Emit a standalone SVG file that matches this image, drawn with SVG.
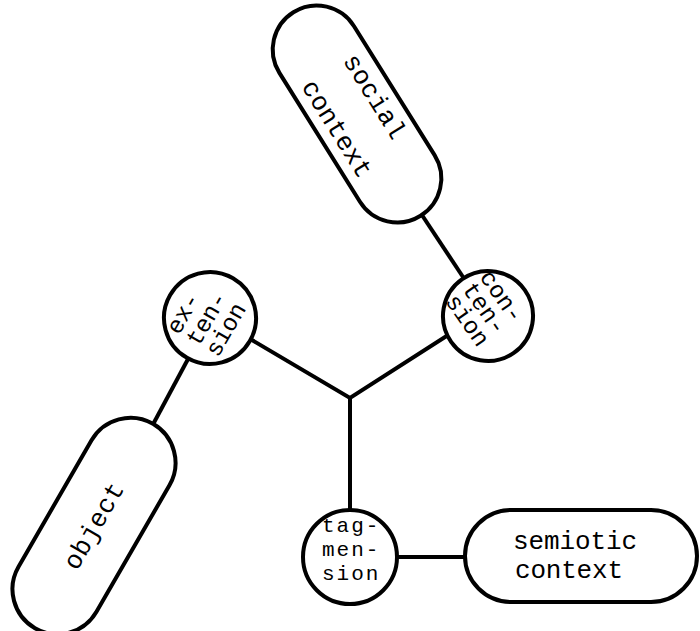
<svg xmlns="http://www.w3.org/2000/svg" width="700" height="631" viewBox="0 0 700 631">
<style>
.shape{fill:#fff;stroke:#000;stroke-width:4}
.conn{fill:none;stroke:#000;stroke-width:4;stroke-linejoin:miter;stroke-linecap:butt}
.t{font-family:"Liberation Mono","DejaVu Sans Mono",monospace;font-size:24px;fill:#000}
.ts{font-family:"Liberation Mono","DejaVu Sans Mono",monospace;font-size:21px;letter-spacing:2px;fill:#000}
.tl{font-family:"Liberation Mono","DejaVu Sans Mono",monospace;font-size:26px;fill:#000}
</style>
<rect width="700" height="631" fill="#fff"/>
<g id="connectors">
<path class="conn" d="M230,327 L350,398 L470,321"/>
<path class="conn" d="M350,398 L350,540"/>
<path class="conn" d="M380,557 L480,557"/>
<path class="conn" d="M210,318 L150,430"/>
<path class="conn" d="M465,280 L410,197"/>
</g>
<g id="social-context" transform="translate(357,114) rotate(58)">
<rect class="shape" x="-120" y="-44" width="240" height="88" rx="44"/>
<text class="tl" x="-53" y="-16" textLength="95" lengthAdjust="spacing">social</text>
<text class="tl" x="-53" y="33" textLength="110" lengthAdjust="spacing">context</text>
</g>
<g id="object" transform="translate(94,526) rotate(-60)">
<rect class="shape" x="-118" y="-45" width="236" height="90" rx="45"/>
<text class="tl" x="-48" y="8" textLength="96" lengthAdjust="spacing">object</text>
</g>
<g id="extension" transform="translate(210,318) rotate(-60)">
<circle class="shape" cx="0" cy="0" r="46"/>
<text class="t"><tspan x="-31" y="-18">ex-</tspan><tspan x="-31" y="5">ten-</tspan><tspan x="-31" y="27">sion</tspan></text>
</g>
<g id="contension" transform="translate(488,316) rotate(55)">
<circle class="shape" cx="0" cy="0" r="45"/>
<text class="t"><tspan x="-37" y="-15">con-</tspan><tspan x="-37" y="6">ten-</tspan><tspan x="-37" y="27">sion</tspan></text>
</g>
<g id="tagmension">
<circle class="shape" cx="350" cy="557" r="47"/>
<text class="ts" x="322" y="532">tag-</text>
<text class="ts" x="322" y="556">men-</text>
<text class="ts" x="322" y="580">sion</text>
</g>
<g id="semiotic-context">
<rect class="shape" x="465" y="510" width="232" height="92" rx="46"/>
<text class="tl" x="513" y="549" textLength="124" lengthAdjust="spacing">semiotic</text>
<text class="tl" x="515" y="578" textLength="108" lengthAdjust="spacing">context</text>
</g>
</svg>
